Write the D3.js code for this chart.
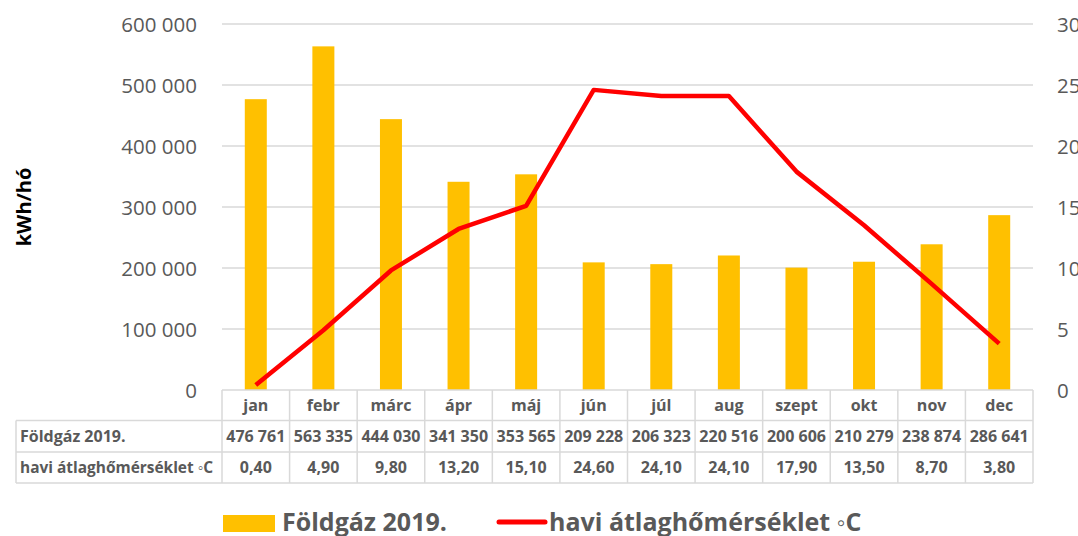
<!DOCTYPE html>
<html><head><meta charset="utf-8">
<script src="https://cdn.jsdelivr.net/npm/d3@7"></script>
<style>html,body{margin:0;padding:0;background:#fff;overflow:hidden;} svg{display:block;}</style>
</head><body>
<script>
const months = ["jan","febr","márc","ápr","máj","jún","júl","aug","szept","okt","nov","dec"];
const gas = [476761,563335,444030,341350,353565,209228,206323,220516,200606,210279,238874,286641];
const temp = [0.40,4.90,9.80,13.20,15.10,24.60,24.10,24.10,17.90,13.50,8.70,3.80];
const gasTicks = [0,100000,200000,300000,400000,500000,600000];
const tempTicks = [0,5,10,15,20,25,30];
const seriesNames = ["Földgáz 2019.","havi átlaghőmérséklet ◦C"];

const W=1078,H=536;
const FONT = "'Open Sans', sans-serif";
const GRAY = "#595959";
const GRID = "#d9d9d9";
const svg = d3.select("body").append("svg").attr("width",W).attr("height",H);

const x = d3.scaleBand().domain(months).range([222,1033]).paddingInner(0).paddingOuter(0);
const y = d3.scaleLinear().domain([0,600000]).range([390,24]);
const y2 = d3.scaleLinear().domain([0,30]).range([390,24]);

const fmt = v => d3.format(",")(v).replace(/,/g," ");
const fmtT = v => d3.format(".2f")(v).replace(".",",");

// grid
svg.append("g").selectAll("line").data(gasTicks.slice(1)).join("line")
  .attr("x1",222).attr("x2",1033).attr("y1",d=>y(d)).attr("y2",d=>y(d))
  .attr("stroke",GRID).attr("stroke-width",1.5);

// left axis
const ly = d3.axisLeft(y).tickValues(gasTicks).tickFormat(fmt).tickSize(0).tickPadding(0);
const gl = svg.append("g").attr("transform","translate(197,0)").call(ly);
gl.select(".domain").remove();
gl.selectAll("text").attr("font-family",FONT).attr("font-size",20.5).attr("fill",GRAY).attr("dy","0.35em");

// right axis
const ry = d3.axisRight(y2).tickValues(tempTicks).tickFormat(d=>d).tickSize(0).tickPadding(0);
const gr = svg.append("g").attr("transform","translate(1057,0)").call(ry);
gr.select(".domain").remove();
gr.selectAll("text").attr("font-family",FONT).attr("font-size",20.5).attr("fill",GRAY).attr("dy","0.35em");

// y title
svg.append("text").attr("transform","translate(31,207) rotate(-90)").attr("text-anchor","middle")
  .attr("font-family",FONT).attr("font-weight","bold").attr("font-size",20).attr("fill","#000").text("kWh/hó");

// bars
const bw = 22;
svg.append("g").selectAll("rect").data(months).join("rect")
  .attr("x",(d)=>x(d)+x.bandwidth()/2-bw/2).attr("width",bw)
  .attr("y",(d,i)=>y(gas[i])).attr("height",(d,i)=>y(0)-y(gas[i]))
  .attr("fill","#FFC000");

// line
const line = d3.line().x((d,i)=>x(months[i])+x.bandwidth()/2).y(d=>y2(d));
svg.append("path").datum(temp).attr("d",line).attr("fill","none")
  .attr("stroke","#FF0000").attr("stroke-width",4.5).attr("stroke-linejoin","round");

// table
const rowTop=[390,420.5,452], rowBot=[420.5,452,483];
const tb = svg.append("g");
const tline=(x1,y1,x2,y2)=>tb.append("line").attr("x1",x1).attr("y1",y1).attr("x2",x2).attr("y2",y2).attr("stroke",GRID).attr("stroke-width",1.5);
tline(222,390,1033,390);
tline(16,420.5,1033,420.5);
tline(16,452,1033,452);
tline(16,483,1033,483);
tline(16,420.5,16,483);
months.forEach(m=>tline(x(m),390,x(m),483));
tline(1033,390,1033,483);

const tstyle = s => s.attr("font-family",FONT).attr("font-weight","bold").attr("font-size",16).attr("fill",GRAY);
tb.append("g").selectAll("text").data(months).join("text")
  .attr("x",d=>x(d)+x.bandwidth()/2).attr("y",(rowTop[0]+rowBot[0])/2).attr("dy","0.35em")
  .attr("text-anchor","middle").text(d=>d).call(tstyle);
tb.append("g").selectAll("text").data(gas).join("text")
  .attr("x",(d,i)=>x(months[i])+x.bandwidth()/2).attr("y",(rowTop[1]+rowBot[1])/2).attr("dy","0.35em")
  .attr("text-anchor","middle").text(fmt).call(tstyle);
tb.append("g").selectAll("text").data(temp).join("text")
  .attr("x",(d,i)=>x(months[i])+x.bandwidth()/2).attr("y",(rowTop[2]+rowBot[2])/2).attr("dy","0.35em")
  .attr("text-anchor","middle").text(fmtT).call(tstyle);
tb.append("text").attr("x",20).attr("y",(rowTop[1]+rowBot[1])/2).attr("dy","0.35em").text(seriesNames[0]).call(tstyle);
const lab2 = tb.append("text").attr("x",20).attr("y",(rowTop[2]+rowBot[2])/2).attr("dy","0.35em").text(seriesNames[1]).call(tstyle);
const L = lab2.node().getComputedTextLength();
if (L>193) lab2.attr("textLength",193).attr("lengthAdjust","spacingAndGlyphs");

// legend
const lg = svg.append("g");
lg.append("rect").attr("x",223).attr("y",515).attr("width",52).attr("height",17).attr("fill","#FFC000");
lg.append("text").attr("x",282).attr("y",531).text(seriesNames[0])
  .attr("font-family",FONT).attr("font-weight","bold").attr("font-size",25).attr("fill",GRAY);
lg.append("line").attr("x1",499).attr("x2",545).attr("y1",522).attr("y2",522)
  .attr("stroke","#FF0000").attr("stroke-width",5).attr("stroke-linecap","round");
lg.append("text").attr("x",549).attr("y",531).text(seriesNames[1])
  .attr("font-family",FONT).attr("font-weight","bold").attr("font-size",25).attr("fill",GRAY);
</script>
</body></html>
